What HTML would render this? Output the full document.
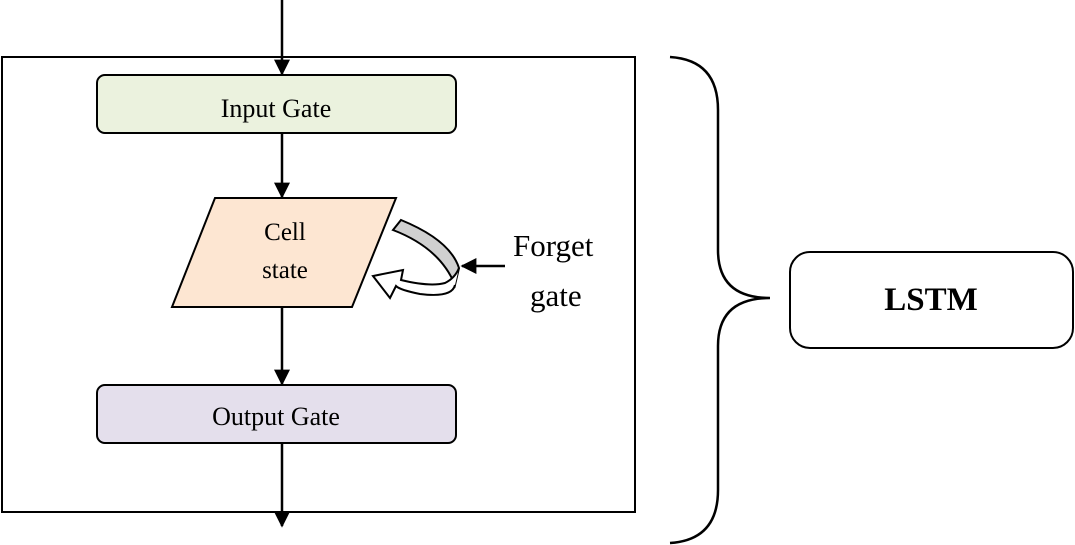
<!DOCTYPE html>
<html><head><style>body{margin:0;background:#fff}svg{display:block}</style></head><body>
<svg width="1075" height="545" viewBox="0 0 1075 545" xmlns="http://www.w3.org/2000/svg" font-family="Liberation Serif, serif">
<defs>
<marker id="ah2" viewBox="0 0 10 10" markerWidth="16" markerHeight="16" refX="9" refY="5" orient="auto" markerUnits="userSpaceOnUse"><path d="M0,0 L10,5 L0,10 z" fill="#000"/></marker></defs>
<rect x="2" y="57" width="633" height="455" fill="none" stroke="#000" stroke-width="2"/>
<line x1="282" y1="0" x2="282" y2="74" stroke="#000" stroke-width="2.5" marker-end="url(#ah2)"/>
<rect x="97" y="75" width="359" height="58" rx="8" fill="#ebf2de" stroke="#000" stroke-width="2"/>
<text x="276" y="117" font-size="26" text-anchor="middle">Input Gate</text>
<line x1="282" y1="133" x2="282" y2="197" stroke="#000" stroke-width="2.5" marker-end="url(#ah2)"/>
<polygon points="215,198 396,198 352,307 172,307" fill="#fde6d2" stroke="#000" stroke-width="2"/>
<text x="285" y="240" font-size="25" text-anchor="middle">Cell</text>
<text x="285" y="278" font-size="25" text-anchor="middle">state</text>
<line x1="282" y1="307" x2="282" y2="384" stroke="#000" stroke-width="2.5" marker-end="url(#ah2)"/>
<rect x="97" y="385" width="359" height="58" rx="8" fill="#e4dfec" stroke="#000" stroke-width="2"/>
<text x="276" y="425" font-size="26" text-anchor="middle">Output Gate</text>
<line x1="282" y1="443" x2="282" y2="526" stroke="#000" stroke-width="2.5" marker-end="url(#ah2)"/>
<path d="M393,230 L401,220 Q450,240 459,268 L455,285 Q440,248 393,230 Z" fill="#d0d0d0" stroke="#000" stroke-width="2"/>
<path d="M455,285 Q452,298 420,294 Q400,290 396,286 L390,298 L373,276 L403,270 L401,280 Q430,287 445,283 Q455,278 459,268" fill="#fff" stroke="#000" stroke-width="2"/>
<line x1="505" y1="266" x2="462" y2="266" stroke="#000" stroke-width="2.5" marker-end="url(#ah2)"/>
<text x="513" y="256" font-size="31">Forget</text>
<text x="530" y="306" font-size="31">gate</text>
<path d="M670,57 Q718,60 718,110 L718,250 Q718,298 770,298 Q718,298 718,346 L718,490 Q718,540 670,543" fill="none" stroke="#000" stroke-width="2.5"/>
<rect x="790" y="252" width="283" height="96" rx="20" fill="#fff" stroke="#000" stroke-width="2"/>
<text x="931" y="310" font-size="33" font-weight="bold" text-anchor="middle">LSTM</text>
</svg>
</body></html>
